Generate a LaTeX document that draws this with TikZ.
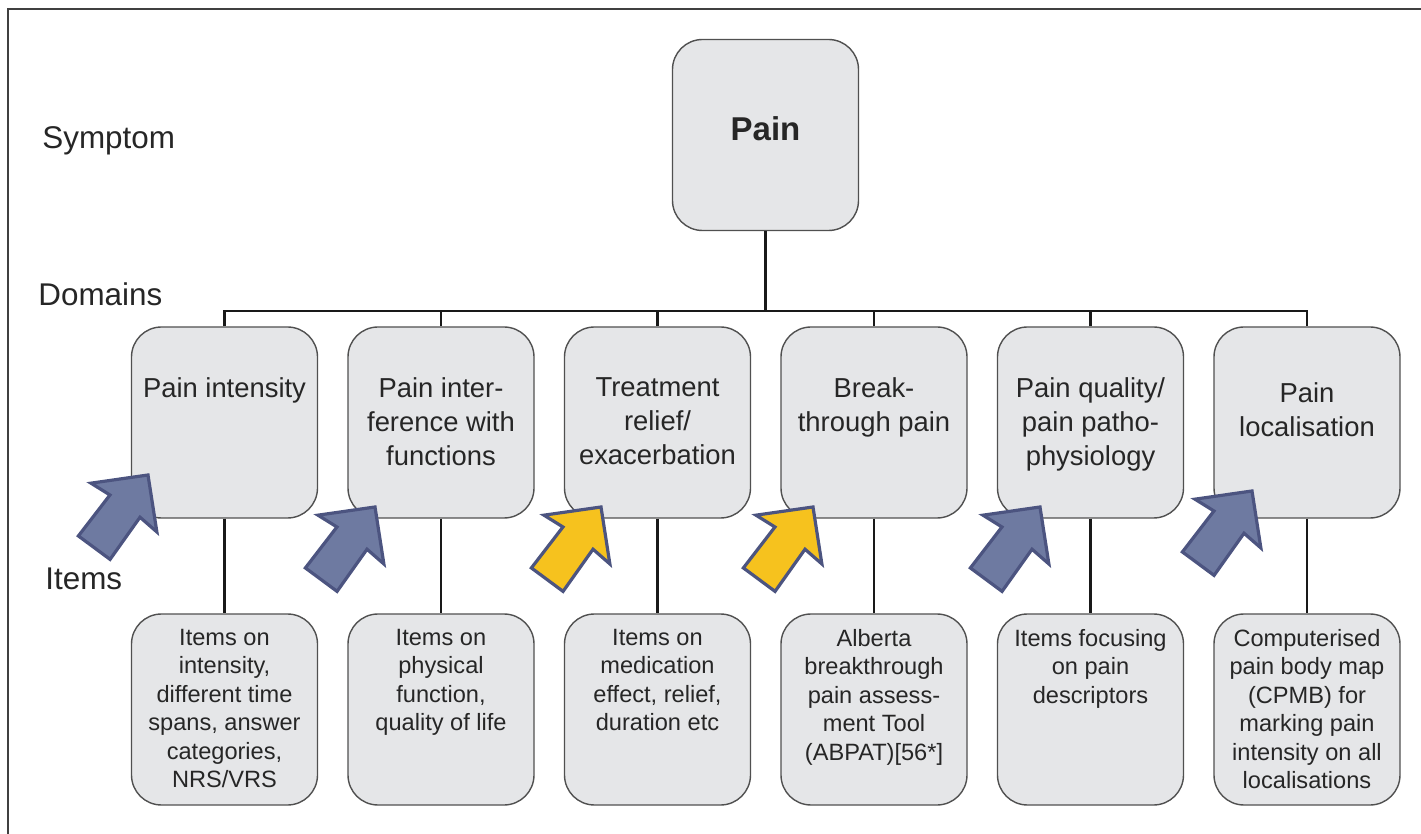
\documentclass[tikz,border=0pt]{standalone}
\usepackage{fontspec}
\setmainfont{Liberation Sans}
\usepackage{tikz}
\definecolor{boxgray}{HTML}{E5E6E8}
\definecolor{boxline}{HTML}{505050}
\definecolor{arrowblue}{HTML}{6E7AA1}
\definecolor{arrowline}{HTML}{4C5480}
\definecolor{arrowyellow}{HTML}{F6C21E}
\definecolor{textgray}{HTML}{262626}

\begin{document}
\begin{tikzpicture}[
      x=0.5pt, y=-0.5pt,
      frame/.style={draw=black!75,line width=0.8pt},
      link/.style={line width=1.3pt,black!90},
      box/.style={draw=boxline,line width=0.7pt,fill=boxgray,rounded corners=15pt,
        inner sep=0pt,minimum width=93pt,minimum height=95.5pt,text=textgray},
      pain box/.style={box,font=\bfseries\fontsize{16.5}{19}\selectfont,text depth=6pt},
      domain box/.style={box,
        execute at begin node={\begin{minipage}[c][95.5pt][t]{91pt}\centering\fontsize{13.7}{17}\selectfont\vspace*{25.4pt}},
        execute at end node={\end{minipage}}},
      item box/.style={box,
        execute at begin node={\begin{minipage}[c][95.5pt][t]{91pt}\centering\fontsize{11.8}{14.25}\selectfont\vspace*{7.6pt}},
        execute at end node={\end{minipage}}},
      level/.style={anchor=base west,inner sep=0pt,text=textgray,font=\fontsize{15.7}{19}\selectfont},
      big arrow/.style={draw=arrowline,line width=1.6pt,line join=miter}
      ]
      \useasboundingbox (0,0) rectangle (1421,834);
      % frame
      \draw [frame] (1421,9) -| (8,834);
      % levels
      \node [level] (symptom) at (42,149) {Symptom};
      \node [level] (domains) at (38,306) {Domains};
      \node [level] (items) at (45,589) {Items};
      % symptom
      \node [pain box] (pain) at (765.5,135) {Pain};
      % domains
      \node [domain box] (d1) at (224.5,422.5) {Pain intensity};
      \node [domain box] (d2) at (441,422.5) {Pain inter-\\ference with\\functions};
      \node [domain box] (d3) at (657.5,422.5) {Treatment\\relief/\\exacerbation};
      \node [domain box] (d4) at (874,422.5) {Break-\\through pain};
      \node [domain box] (d5) at (1090.5,422.5) {Pain quality/\\pain patho-\\physiology};
      \node [domain box] (d6) at (1307,422.5) {\vspace*{2.5pt}Pain\\localisation};
      % items
      \node [item box] (i1) at (224.5,709.5) {Items on\\intensity,\\different time\\spans, answer\\categories,\\NRS/VRS};
      \node [item box] (i2) at (441,709.5) {Items on\\physical\\function,\\quality of life};
      \node [item box] (i3) at (657.5,709.5) {Items on\\medication\\effect, relief,\\duration etc};
      \node [item box] (i4) at (874,709.5) {Alberta\\breakthrough\\pain assess-\\ment Tool\\(ABPAT)[56*]};
      \node [item box] (i5) at (1090.5,709.5) {Items focusing\\on pain\\descriptors};
      \node [item box] (i6) at (1307,709.5) {Computerised\\pain body map\\(CPMB) for\\marking pain\\intensity on all\\localisations};
      % tree
      \coordinate (bus) at (765.5,311);
      \draw [link] (pain) -- (bus);
      \draw [link] (d1.north) |- (bus) -| (d6.north);
      \foreach \i in {2,...,5} {
          \draw [link] (d\i.north) -- (d\i.north |- bus);
      }
      \foreach \i in {1,...,6} {
          \draw [link] (d\i) -- (i\i);
      }
      % arrows
      \foreach \x/\y/\c in {148/475/arrowblue,375/507/arrowblue,601/507/arrowyellow,813/507/arrowyellow,1040/507/arrowblue,1252/491/arrowblue} {
          \draw [big arrow,fill=\c,shift={(\x,\y)},rotate=53.5] (0,0) -- (-40.5,41) -- (-38.7,18.7) -- (-90.4,19.7) -- (-90.4,-19.7) -- (-38.7,-18.7) -- (-40.5,-41) -- cycle;
      }
    \end{tikzpicture}
\end{document}
